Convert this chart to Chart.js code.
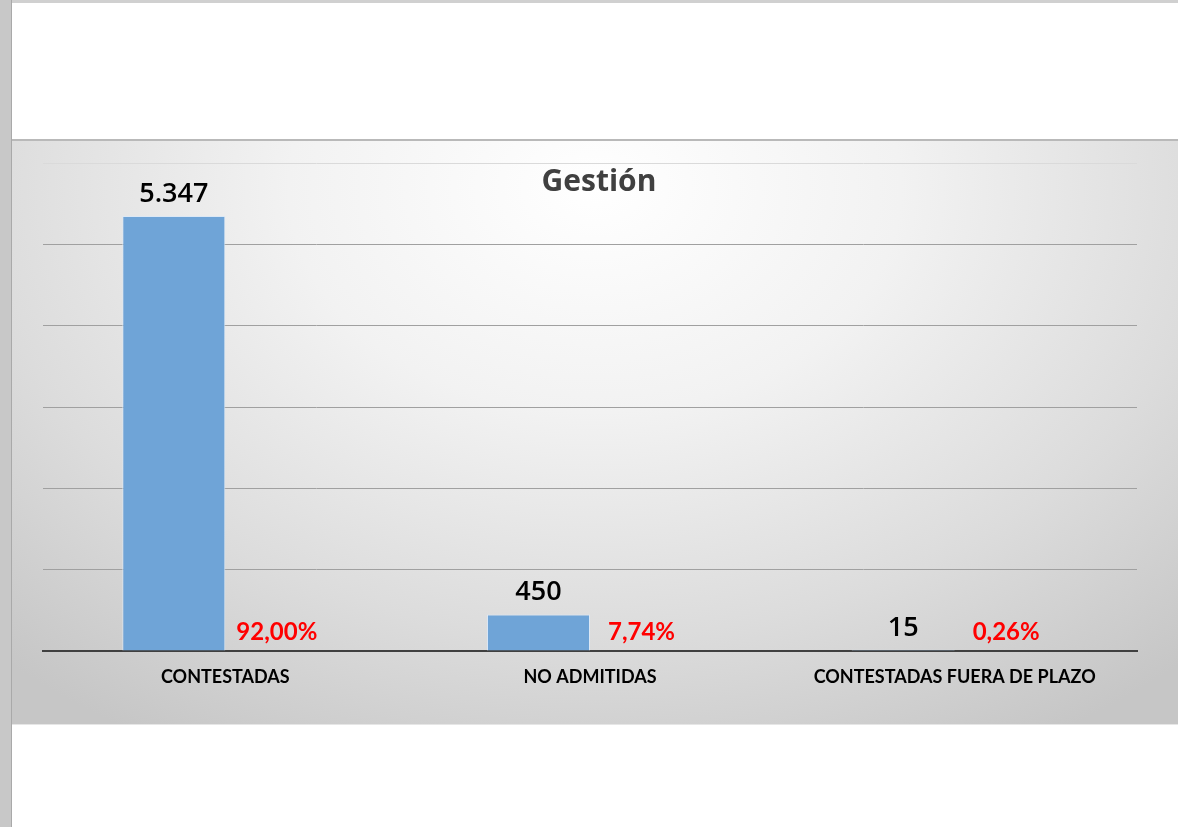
<!DOCTYPE html>
<html><head><meta charset="utf-8">
<script src="https://cdn.jsdelivr.net/npm/chart.js@4/dist/chart.umd.min.js"></script>
<style>
html,body{margin:0;padding:0;background:#fff;width:1178px;height:827px;overflow:hidden;}
#lb{position:absolute;left:0;top:0;width:11px;height:827px;background:#c8c8c8;border-right:1px solid #a9a9a9;}
#tb{position:absolute;left:0;top:0;width:1178px;height:3px;background:#d0d0d0;}
#box{position:absolute;left:12px;top:139px;width:1166px;height:586px;box-sizing:border-box;border-top:2px solid #b9b9b9;border-bottom:1px solid #e6e6e6;
background:radial-gradient(ellipse 75% 110% at 50% 8%, #ffffff 0%, #f2f2f2 35%, #dcdcdc 70%, #c6c6c6 100%);}
canvas{display:block;}
</style>
</head><body>
<div id="tb"></div>
<div id="lb"></div>
<div id="box"><canvas id="c" width="1166" height="584"></canvas></div>
<script>
const chartTitle = 'Gestión';
const categories = ['CONTESTADAS', 'NO ADMITIDAS', 'CONTESTADAS FUERA DE PLAZO'];
const counts = [5347, 450, 15];
const shares = [0.92, 0.0774, 0.0026];
const yMax = 6000;
const yStep = 1000;

function fmtCount(v){ return String(v).replace(/\B(?=(\d{3})+(?!\d))/g, '.'); }
function fmtShare(v){ return (v*100).toFixed(2).replace('.', ',') + '%'; }

const labelPlugin = {
  id: 'labels',
  afterDatasetsDraw(chart){
    const ctx = chart.ctx;
    ctx.save();
    ctx.textAlign = 'center';
    ctx.textBaseline = 'alphabetic';
    chart.getDatasetMeta(0).data.forEach((el, i) => {
      ctx.font = '600 27px "Open Sans", Lato, sans-serif';
      ctx.fillStyle = '#000000';
      ctx.fillText(fmtCount(counts[i]), el.x, el.y - 14);
    });
    chart.getDatasetMeta(1).data.forEach((el, i) => {
      ctx.font = 'bold 24px Lato, sans-serif';
      ctx.fillStyle = '#ff0000';
      ctx.fillText(fmtShare(shares[i]), el.x, el.y - 11);
    });
    const a = chart.chartArea;
    ctx.font = 'bold 30px "Open Sans", sans-serif';
    ctx.fillStyle = '#404040';
    ctx.textBaseline = 'middle';
    ctx.fillText(chartTitle, (a.left + a.right)/2 + 9, 41);
    ctx.restore();
  }
};

new Chart(document.getElementById('c'), {
  type: 'bar',
  data: {
    labels: categories,
    datasets: [
      { data: counts, backgroundColor: '#6fa4d7', borderColor: '#dce8f5', borderWidth: 1,
        categoryPercentage: 0.565, barPercentage: 1 },
      { data: shares, backgroundColor: 'rgba(0,0,0,0)', borderWidth: 0,
        categoryPercentage: 0.565, barPercentage: 1 }
    ]
  },
  options: {
    responsive: false,
    animation: false,
    devicePixelRatio: 1,
    layout: { padding: { left: 31, right: 41, top: 22, bottom: 0 } },
    plugins: { legend: { display: false }, tooltip: { enabled: false }, title: { display: false } },
    scales: {
      x: {
        grid: { display: false, drawTicks: false },
        border: { display: true, color: '#404040', width: 2 },
        ticks: { color: '#000000', font: { family: 'Lato', weight: 'bold', size: 18 }, padding: 15, maxRotation: 0, autoSkip: false },
        afterFit(s){ s.height = 74; }
      },
      y: {
        min: 0, max: yMax,
        ticks: { display: false, stepSize: yStep },
        grid: { drawTicks: false, lineWidth: 1,
          color: (c) => c.tick && c.tick.value === 0 ? 'rgba(0,0,0,0)' : (c.tick && c.tick.value === yMax ? '#dadada' : '#a0a0a0') },
        border: { display: false },
        afterFit(s){ s.width = 0; }
      }
    }
  },
  plugins: [labelPlugin]
});
</script>
</body></html>
